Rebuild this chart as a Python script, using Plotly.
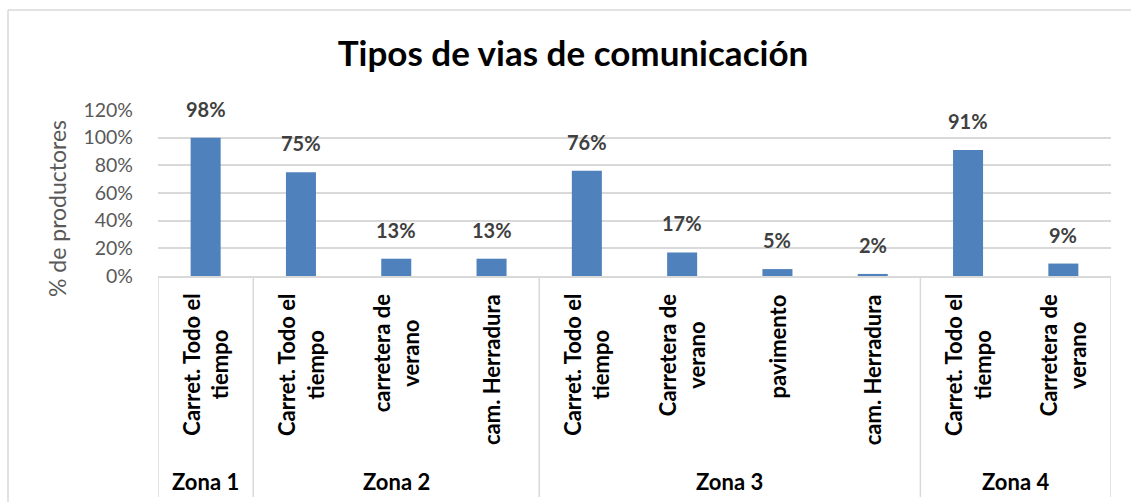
import plotly.graph_objects as go

zones = ["Zona 1", "Zona 2", "Zona 3", "Zona 4"]
zone_sizes = [1, 3, 4, 2]
categories = [
    "Carret. Todo el<br>tiempo",
    "Carret. Todo el<br>tiempo",
    "carretera de<br>verano",
    "cam. Herradura",
    "Carret. Todo el<br>tiempo",
    "Carretera de<br>verano",
    "pavimento",
    "cam. Herradura",
    "Carret. Todo el<br>tiempo",
    "Carretera de<br>verano",
]
values = [1.00, 0.75, 0.125, 0.125, 0.76, 0.17, 0.05, 0.015, 0.91, 0.09]
value_labels = ["98%", "75%", "13%", "13%", "76%", "17%", "5%", "2%", "91%", "9%"]
y_ticks = [0, 0.2, 0.4, 0.6, 0.8, 1.0, 1.2]
y_ticktext = ["0%", "20%", "40%", "60%", "80%", "100%", "120%"]

FONT = "Lato"
GRID = "#D9D9D9"
BAR = "#4F81BD"

W, H = 1131, 502
ml, mr, mt, mb = 158, 20, 110, 226
ph = H - mt - mb

def py(pix):
    # convert pixel y (from top) to paper coordinate
    return (H - mb - pix) / ph

def px(pix):
    return (pix - ml) / (W - ml - mr)

xs = list(range(len(values)))

fig = go.Figure()
fig.add_trace(go.Bar(x=xs, y=values, marker=dict(color=BAR, line=dict(width=0)),
                     width=0.315, hoverinfo="skip"))

annotations = []
for i, (v, t) in enumerate(zip(values, value_labels)):
    annotations.append(dict(x=i, y=v, xref="x", yref="y", text=t, showarrow=False,
                            yanchor="bottom", yshift=15,
                            font=dict(family=FONT, size=20, color="#404040", weight="bold")))
for i, c in enumerate(categories):
    annotations.append(dict(x=i, y=py(292), xref="x", yref="paper", text=c, showarrow=False,
                            textangle=-90, xanchor="center", yanchor="top", align="center",
                            font=dict(family=FONT, size=22, color="#000000", weight="bold")))

start = -0.5
bounds = [start]
for z, n in zip(zones, zone_sizes):
    mid = start + n / 2
    annotations.append(dict(x=mid, y=py(481), xref="x", yref="paper", text=z, showarrow=False,
                            xanchor="center", yanchor="middle",
                            font=dict(family=FONT, size=22, color="#000000", weight="bold")))
    start += n
    bounds.append(start)

# y-axis title
annotations.append(dict(x=px(57), y=py(209), xref="paper", yref="paper",
                        text="% de productores", showarrow=False, textangle=-90,
                        xanchor="center", yanchor="middle",
                        font=dict(family=FONT, size=23, color="#595959")))

shapes = []
for b in bounds:
    shapes.append(dict(type="line", xref="x", yref="paper", x0=b, x1=b, y0=0, y1=py(497),
                       line=dict(color=GRID, width=1.5)))
# chart outer border
shapes.append(dict(type="line", xref="paper", yref="paper", x0=px(8), x1=px(1140),
                   y0=py(10), y1=py(10), line=dict(color=GRID, width=1.5)))
shapes.append(dict(type="line", xref="paper", yref="paper", x0=px(8), x1=px(8),
                   y0=py(10), y1=py(510), line=dict(color=GRID, width=1.5)))

fig.update_layout(
    width=W, height=H,
    margin=dict(l=ml, r=mr, t=mt, b=mb),
    paper_bgcolor="white", plot_bgcolor="white",
    showlegend=False,
    title=dict(text="<b>Tipos de vias de comunicación</b>", x=573 / W, xref="container",
               xanchor="center", y=1 - 54 / H, yanchor="middle",
               font=dict(family=FONT, size=35, color="#000000")),
    xaxis=dict(range=[-0.5, 9.5], tickvals=xs, ticktext=[""] * len(xs), showgrid=False,
               showline=True, linecolor=GRID, linewidth=1.5, ticks="", zeroline=False,
               fixedrange=True),
    yaxis=dict(range=[0, 1.2], tickvals=y_ticks, ticktext=y_ticktext, showgrid=True,
               gridcolor=GRID, gridwidth=1.5, zeroline=False, showline=False, ticks="",
               ticklabelstandoff=24,
               tickfont=dict(family=FONT, size=19.5, color="#595959")),
    annotations=annotations,
    shapes=shapes,
)

fig.write_html("out.html", config={"displayModeBar": False},
               post_script="document.body.style.margin='0';")
